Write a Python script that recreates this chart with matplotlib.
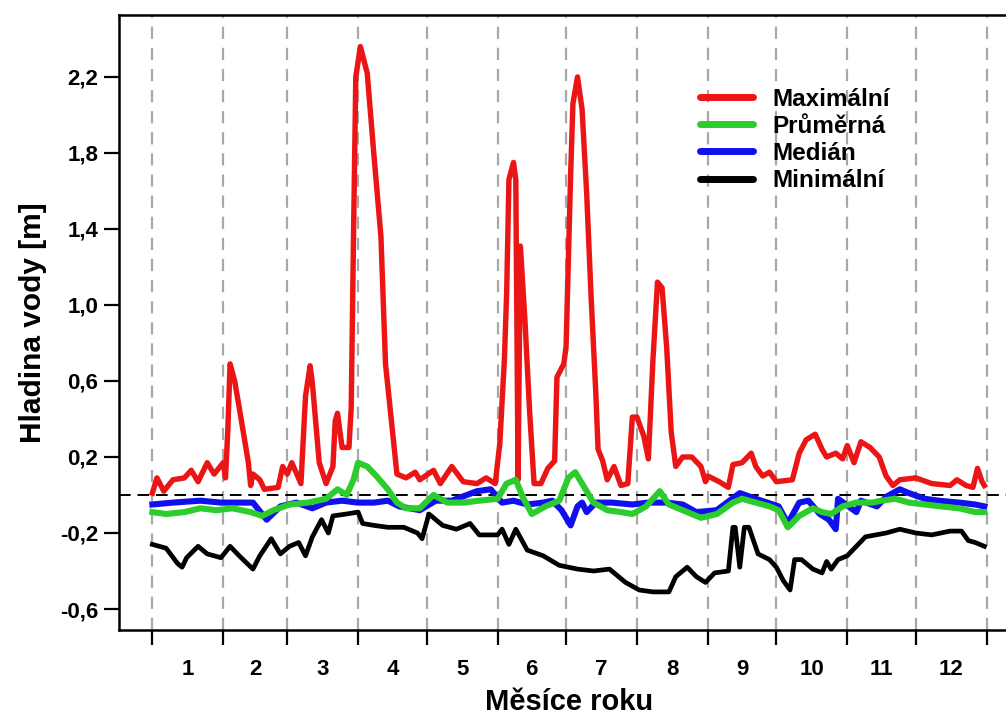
import matplotlib
matplotlib.use("Agg")
import matplotlib.pyplot as plt
from matplotlib.ticker import FixedLocator, FuncFormatter

plt.rcParams['font.family'] = ['Liberation Sans', 'DejaVu Sans']
plt.rcParams['font.weight'] = 'bold'

# ---- data (day of year, water level in m) ----
max_days = [1, 3, 6, 10, 15, 18, 21, 25, 28, 32, 33, 34, 35, 37, 39, 43, 44, 45, 48, 50,
            56, 58, 60, 62, 66, 68, 70, 71, 74, 77, 80, 81, 82, 84, 87, 88, 89, 90, 92, 95,
            98, 101, 103, 105, 108, 112, 116, 118, 124, 127, 132, 137, 143, 147, 151, 153,
            155, 156, 157, 159, 160, 161, 162, 164, 166, 168, 171, 174, 177, 178, 181, 182,
            184, 185, 187, 189, 191, 193, 195, 196, 198, 200, 203, 206, 209, 211, 213, 216,
            218, 220, 222, 224, 226, 228, 230, 233, 237, 241, 243, 244, 249, 253, 255, 259,
            263, 265, 268, 271, 274, 281, 284, 287, 291, 294, 296, 300, 303, 305, 308, 311,
            315, 319, 322, 325, 328, 335, 342, 350, 353, 357, 360, 362, 364, 365]
max_vals = [0.01, 0.09, 0.02, 0.08, 0.09, 0.13, 0.07, 0.17, 0.11, 0.17, 0.09, 0.34, 0.69, 0.60,
            0.46, 0.17, 0.05, 0.11, 0.08, 0.03, 0.04, 0.15, 0.11, 0.17, 0.06, 0.52, 0.68, 0.59,
            0.17, 0.06, 0.15, 0.39, 0.43, 0.25, 0.25, 0.46, 1.36, 2.20, 2.36, 2.22, 1.78, 1.36,
            0.69, 0.46, 0.11, 0.09, 0.12, 0.08, 0.13, 0.06, 0.15, 0.07, 0.06, 0.09, 0.06, 0.27,
            0.71, 1.06, 1.66, 1.75, 1.66, 0.08, 1.31, 0.92, 0.45, 0.06, 0.06, 0.14, 0.18, 0.62,
            0.69, 0.78, 1.69, 2.06, 2.20, 2.03, 1.59, 1.03, 0.54, 0.24, 0.18, 0.08, 0.15, 0.05,
            0.06, 0.41, 0.41, 0.31, 0.19, 0.71, 1.12, 1.09, 0.78, 0.33, 0.15, 0.20, 0.20, 0.15,
            0.07, 0.10, 0.07, 0.04, 0.16, 0.17, 0.22, 0.15, 0.10, 0.12, 0.07, 0.08, 0.22, 0.29,
            0.32, 0.24, 0.20, 0.22, 0.19, 0.26, 0.17, 0.28, 0.25, 0.20, 0.10, 0.05, 0.08, 0.09,
            0.06, 0.05, 0.08, 0.05, 0.04, 0.14, 0.07, 0.05]

mean_days = [1, 7, 15, 22, 29, 36, 44, 49, 54, 61, 69, 77, 82, 86, 89, 91, 95, 99, 104, 108,
             112, 118, 124, 130, 137, 144, 152, 156, 160, 163, 167, 173, 179, 183, 186, 189,
             194, 200, 206, 211, 217, 223, 227, 235, 241, 248, 255, 259, 265, 271, 275, 279,
             284, 290, 294, 298, 303, 309, 316, 320, 326, 332, 339, 346, 354, 361, 365]
mean_vals = [-0.09, -0.10, -0.09, -0.07, -0.08, -0.07, -0.09, -0.11, -0.08, -0.05, -0.04,
             -0.02, 0.03, 0.00, 0.08, 0.17, 0.15, 0.10, 0.03, -0.04, -0.07, -0.07, 0.00, -0.04,
             -0.04, -0.03, -0.02, 0.06, 0.08, -0.01, -0.10, -0.06, -0.03, 0.09, 0.12, 0.06,
             -0.04, -0.08, -0.09, -0.10, -0.06, 0.02, -0.05, -0.09, -0.12, -0.10, -0.04, -0.02,
             -0.04, -0.06, -0.08, -0.17, -0.11, -0.07, -0.09, -0.10, -0.06, -0.04, -0.04, -0.03,
             -0.02, -0.04, -0.05, -0.06, -0.07, -0.09, -0.09]

median_days = [1, 10, 22, 31, 39, 45, 51, 57, 64, 71, 77, 84, 91, 98, 104, 109, 118, 125, 132,
               143, 149, 154, 159, 165, 172, 176, 180, 184, 187, 189, 191, 195, 202, 211, 218,
               226, 233, 239, 248, 249, 258, 265, 275, 279, 284, 288, 293, 297, 300, 301, 309,
               311, 318, 322, 328, 332, 339, 345, 354, 361, 365]
median_vals = [-0.05, -0.04, -0.03, -0.04, -0.04, -0.04, -0.13, -0.06, -0.04, -0.07, -0.04,
               -0.03, -0.04, -0.04, -0.03, -0.06, -0.08, -0.03, -0.03, 0.02, 0.03, -0.04, -0.03,
               -0.05, -0.04, -0.03, -0.08, -0.16, -0.06, -0.04, -0.09, -0.04, -0.04, -0.05, -0.04,
               -0.04, -0.05, -0.09, -0.08, -0.07, 0.01, -0.02, -0.06, -0.15, -0.04, -0.03, -0.10,
               -0.13, -0.18, -0.02, -0.09, -0.03, -0.06, -0.01, 0.03, 0.01, -0.02, -0.03, -0.04,
               -0.05, -0.06]

min_days = [1, 7, 12, 14, 16, 21, 25, 31, 35, 39, 45, 48, 53, 57, 61, 65, 68, 71, 75, 78, 80,
            86, 91, 93, 98, 104, 111, 117, 119, 122, 128, 134, 140, 144, 152, 154, 157, 160,
            165, 172, 179, 187, 194, 201, 208, 214, 220, 227, 230, 235, 239, 243, 247, 253,
            255, 256, 258, 260, 262, 266, 271, 274, 277, 280, 282, 285, 290, 294, 296, 298,
            301, 305, 309, 313, 322, 328, 335, 342, 350, 355, 358, 361, 365]
min_vals = [-0.26, -0.28, -0.36, -0.38, -0.33, -0.27, -0.31, -0.33, -0.27, -0.32, -0.39, -0.32,
            -0.23, -0.31, -0.27, -0.25, -0.32, -0.22, -0.13, -0.20, -0.11, -0.10, -0.09, -0.15,
            -0.16, -0.17, -0.17, -0.20, -0.23, -0.10, -0.16, -0.18, -0.15, -0.21, -0.21, -0.18,
            -0.26, -0.18, -0.29, -0.32, -0.37, -0.39, -0.40, -0.39, -0.46, -0.50, -0.51, -0.51,
            -0.43, -0.38, -0.43, -0.46, -0.41, -0.40, -0.17, -0.17, -0.38, -0.17, -0.17, -0.31,
            -0.34, -0.38, -0.45, -0.50, -0.34, -0.34, -0.39, -0.41, -0.35, -0.39, -0.34, -0.32,
            -0.27, -0.22, -0.20, -0.18, -0.20, -0.21, -0.19, -0.19, -0.24, -0.25, -0.27]

month_starts = [1, 32, 60, 91, 121, 152, 182, 213, 244, 274, 305, 335, 366]
month_labels = ['1', '2', '3', '4', '5', '6', '7', '8', '9', '10', '11', '12']
y_ticks = [-0.6, -0.2, 0.2, 0.6, 1.0, 1.4, 1.8, 2.2]
series_labels = ['Maximální', 'Průměrná', 'Medián', 'Minimální']

W, H = 1006, 720
fig = plt.figure(figsize=(W / 100, H / 100), dpi=100)
ax = fig.add_axes([119 / W, 1 - 630 / H, (1020 - 119) / W, (630 - 15) / H])

# vertical month separators
for d in month_starts:
    ax.axvline(d, color='#a8a8a8', lw=1.6, linestyle=(0, (5.5, 4)), zorder=1)
ax.axhline(0, color='black', lw=1.4, linestyle=(0, (6, 3.5)), zorder=2)

c_red, c_green, c_blue, c_black = '#ec1515', '#2bcc2b', '#1010ee', '#000000'
l_max, = ax.plot(max_days, max_vals, color=c_red, lw=3.9, zorder=3, solid_joinstyle='round')
l_med, = ax.plot(median_days, median_vals, color=c_blue, lw=4.4, zorder=4, solid_joinstyle='round')
l_mean, = ax.plot(mean_days, mean_vals, color=c_green, lw=4.4, zorder=5, solid_joinstyle='round')
l_min, = ax.plot(min_days, min_vals, color=c_black, lw=3.4, zorder=6, solid_joinstyle='round')

ax.set_xlim(-13.6, 380.6)
ax.set_ylim(-0.7105, 2.526)

ax.xaxis.set_major_locator(FixedLocator(month_starts))
ax.xaxis.set_major_formatter(FuncFormatter(lambda v, p: ''))
mids = [(month_starts[i] + month_starts[i + 1]) / 2 for i in range(12)]
ax.xaxis.set_minor_locator(FixedLocator(mids))
ax.xaxis.set_minor_formatter(FuncFormatter(lambda v, p: month_labels[mids.index(v)] if v in mids else ''))
ax.tick_params(axis='x', which='major', length=11, width=1.6, direction='out')
ax.tick_params(axis='x', which='minor', length=0, pad=21, labelsize=16)
ax.set_yticks(y_ticks)
ax.yaxis.set_major_formatter(FuncFormatter(lambda v, p: f"{v:.1f}".replace('.', ',')))
ax.tick_params(axis='y', length=11, width=1.6, direction='out', labelsize=16, pad=4)

for s in ['left', 'bottom', 'top', 'right']:
    ax.spines[s].set_linewidth(1.8)

ax.set_xlabel('Měsíce roku', fontsize=21, fontweight='bold', labelpad=6)
ax.set_ylabel('Hladina vody [m]', fontsize=21.5, fontweight='bold', labelpad=9)

leg = ax.legend([l_max, l_mean, l_med, l_min], series_labels, frameon=False,
                loc='upper left', bbox_to_anchor=((690 - 119) / (1020 - 119), 1 - (78 - 15) / 615),
                prop={'size': 17.5, 'weight': 'bold'}, handlelength=2.2, handletextpad=0.8,
                labelspacing=0.17, borderaxespad=0)
for h in leg.get_lines():
    h.set_linewidth(5)
    h.set_solid_capstyle('round')

fig.savefig('out.png', dpi=100)
